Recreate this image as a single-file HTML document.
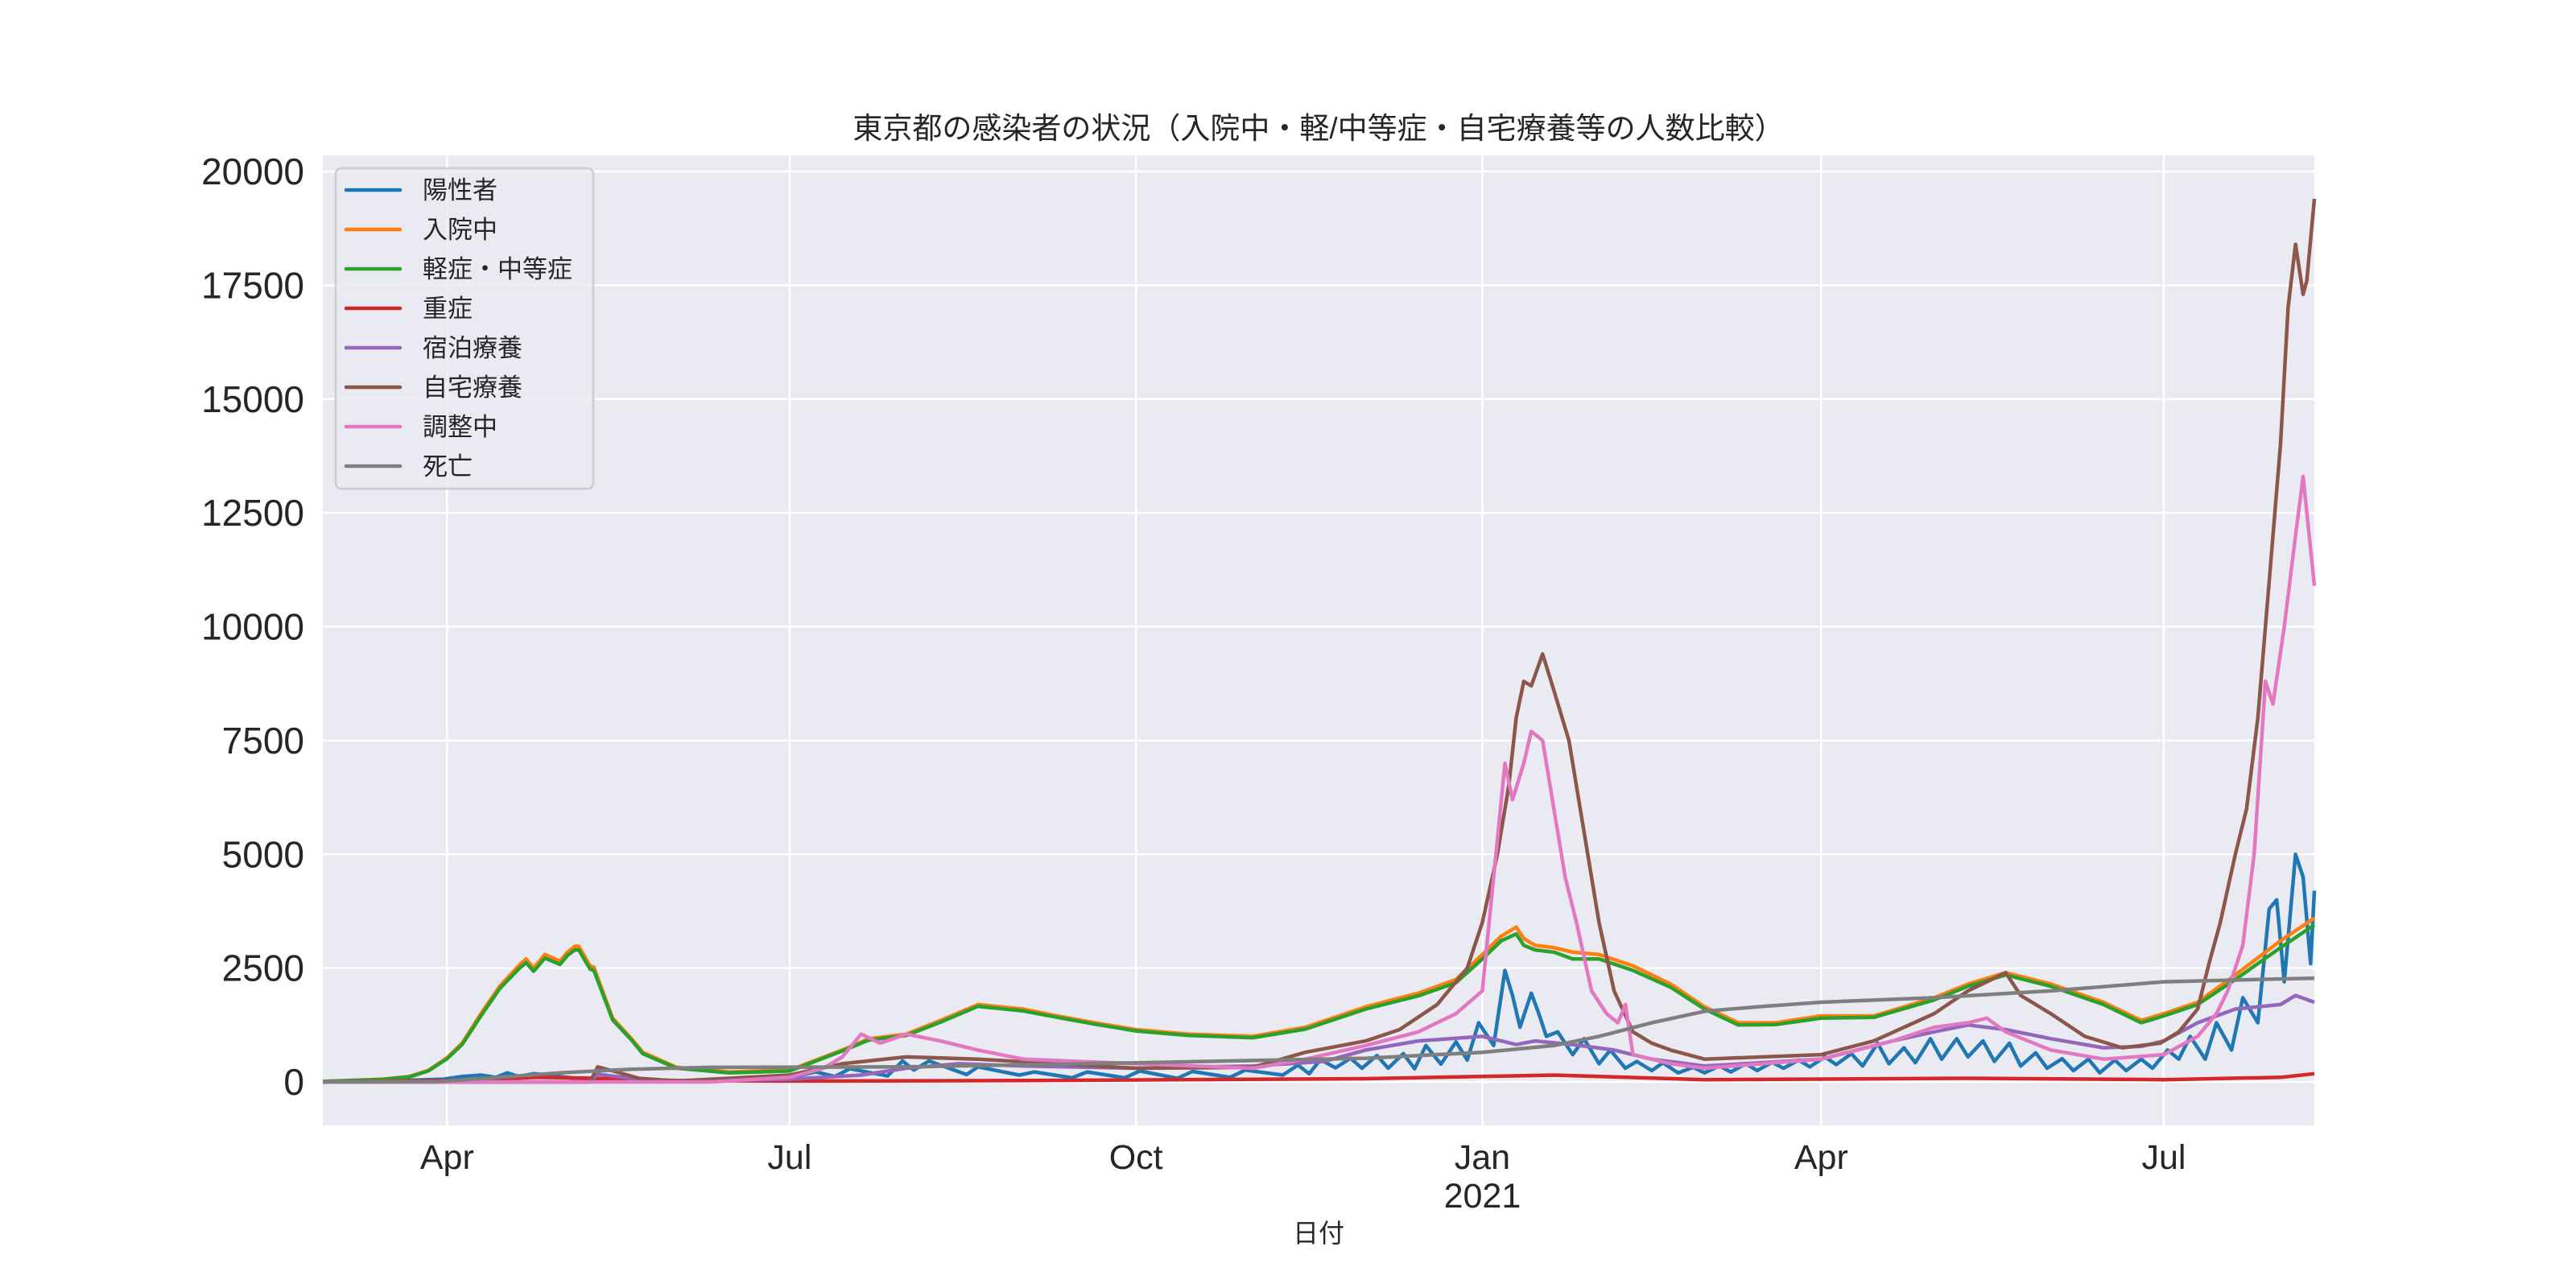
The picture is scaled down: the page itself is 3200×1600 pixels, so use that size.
<!DOCTYPE html>
<html><head><meta charset="utf-8"><style>
html,body{margin:0;padding:0;background:#fff;}
svg{display:block;}
text{font-family:"Liberation Sans","Noto Sans CJK JP",sans-serif;fill:#262626;}
</style></head><body>
<svg id="chart" width="3200" height="1600" viewBox="0 0 3200 1600" xmlns="http://www.w3.org/2000/svg">
<text x="1638" y="172" font-size="37" text-anchor="middle">東京都の感染者の状況（入院中・軽/中等症・自宅療養等の人数比較）</text>
<rect x="401" y="193" width="2474" height="1205" fill="#EAEAF2"/>
<g id="grid"></g>
<g id="series"></g>
<g id="ticks"></g>
<text x="1638" y="1543" font-size="32" text-anchor="middle">日付</text>
<g id="legend"></g>
</svg>
<script>
const yTicks=[0,2500,5000,7500,10000,12500,15000,17500,20000];
const xTickDates=["2020-04-01","2020-07-01","2020-10-01","2021-01-01","2021-04-01","2021-07-01"];
const xTickLabels=["Apr","Jul","Oct","Jan","Apr","Jul"];
const seriesNames=["陽性者","入院中","軽症・中等症","重症","宿泊療養","自宅療養","調整中","死亡"];

const blueDates=["2020-02-28","2020-03-20","2020-03-31","2020-04-05","2020-04-10","2020-04-14","2020-04-17","2020-04-20","2020-04-24","2020-05-01","2020-05-10","2020-05-20","2020-06-10","2020-07-01","2020-07-08","2020-07-13","2020-07-17","2020-07-27","2020-07-31","2020-08-03","2020-08-07","2020-08-17","2020-08-20","2020-08-31","2020-09-04","2020-09-14","2020-09-18","2020-09-28","2020-10-02","2020-10-12","2020-10-16","2020-10-26","2020-10-30","2020-11-09","2020-11-13","2020-11-16","2020-11-19","2020-11-23","2020-11-27","2020-11-30","2020-12-04","2020-12-07","2020-12-11","2020-12-14","2020-12-17","2020-12-21","2020-12-25","2020-12-28","2020-12-31","2021-01-04","2021-01-07","2021-01-09","2021-01-11","2021-01-14","2021-01-16","2021-01-18","2021-01-21","2021-01-25","2021-01-28","2021-02-01","2021-02-04","2021-02-08","2021-02-11","2021-02-15","2021-02-18","2021-02-22","2021-02-26","2021-03-01","2021-03-05","2021-03-08","2021-03-12","2021-03-15","2021-03-19","2021-03-22","2021-03-26","2021-03-29","2021-04-02","2021-04-05","2021-04-09","2021-04-12","2021-04-16","2021-04-19","2021-04-23","2021-04-26","2021-04-30","2021-05-03","2021-05-07","2021-05-10","2021-05-14","2021-05-17","2021-05-21","2021-05-24","2021-05-28","2021-05-31","2021-06-04","2021-06-07","2021-06-11","2021-06-14","2021-06-18","2021-06-21","2021-06-25","2021-06-28","2021-07-02","2021-07-05","2021-07-08","2021-07-12","2021-07-15","2021-07-19","2021-07-22","2021-07-26","2021-07-29","2021-07-31","2021-08-02","2021-08-05","2021-08-07","2021-08-09","2021-08-10"];
const blueValues=[0,30,60,120,150,100,200,120,180,120,30,10,40,100,220,120,290,130,460,260,460,160,330,150,220,90,220,90,240,80,230,100,260,150,370,180,490,310,520,300,580,300,620,290,800,390,880,480,1300,800,2450,1900,1200,1950,1500,1000,1100,600,950,400,700,300,450,250,420,200,320,200,350,220,400,250,430,300,480,330,550,380,620,350,850,400,750,420,950,500,950,550,900,450,850,350,640,300,510,250,500,200,480,250,500,300,700,500,1000,500,1300,700,1850,1300,3800,4000,2200,5000,4500,2600,4200];

const orangeDates=["2020-02-28","2020-03-15","2020-03-22","2020-03-27","2020-04-01","2020-04-05","2020-04-10","2020-04-15","2020-04-20","2020-04-22","2020-04-24","2020-04-27","2020-05-01","2020-05-03","2020-05-05","2020-05-06","2020-05-09","2020-05-10","2020-05-15","2020-05-20","2020-05-23","2020-06-01","2020-06-15","2020-07-01","2020-07-15","2020-07-22","2020-08-01","2020-08-10","2020-08-20","2020-09-01","2020-09-10","2020-09-20","2020-10-01","2020-10-15","2020-11-01","2020-11-15","2020-12-01","2020-12-15","2020-12-25","2021-01-01","2021-01-06","2021-01-10","2021-01-12","2021-01-15","2021-01-20","2021-01-25","2021-02-01","2021-02-10","2021-02-20","2021-03-01","2021-03-10","2021-03-20","2021-04-01","2021-04-15","2021-05-01","2021-05-10","2021-05-20","2021-06-01","2021-06-15","2021-06-25","2021-07-01","2021-07-10","2021-07-20","2021-08-01","2021-08-10"];
const orangeValues=[10,60,120,250,530,850,1500,2100,2550,2700,2500,2800,2650,2850,2980,2980,2550,2520,1400,950,650,320,220,260,700,950,1050,1350,1700,1600,1450,1300,1150,1050,1000,1200,1650,1950,2250,2800,3200,3400,3150,3000,2950,2850,2800,2550,2150,1650,1300,1300,1450,1450,1850,2150,2400,2150,1750,1350,1500,1750,2350,3100,3600];

const greenDates=orangeDates;
const greenValues=[10,55,110,240,510,820,1450,2050,2480,2620,2430,2720,2580,2780,2900,2900,2480,2450,1360,920,620,300,200,240,680,920,1020,1310,1660,1560,1420,1270,1120,1020,970,1160,1600,1890,2180,2700,3100,3250,3000,2900,2850,2700,2700,2450,2080,1600,1250,1260,1400,1420,1800,2100,2350,2100,1700,1300,1450,1700,2250,2950,3450];

const redDates=["2020-02-28","2020-04-01","2020-04-25","2020-05-10","2020-06-01","2020-07-01","2020-09-01","2020-12-01","2021-01-20","2021-03-01","2021-05-10","2021-07-01","2021-08-01","2021-08-10"];
const redValues=[0,30,100,80,30,20,30,70,150,50,80,50,100,180];

const purpleDates=["2020-02-28","2020-05-09","2020-05-11","2020-05-20","2020-06-01","2020-07-01","2020-07-20","2020-08-01","2020-08-15","2020-09-01","2020-10-01","2020-11-01","2020-11-20","2020-12-01","2020-12-15","2021-01-01","2021-01-10","2021-01-15","2021-01-25","2021-02-05","2021-02-15","2021-03-01","2021-04-01","2021-04-20","2021-05-01","2021-05-10","2021-05-20","2021-06-01","2021-06-15","2021-06-25","2021-07-01","2021-07-10","2021-07-20","2021-08-01","2021-08-05","2021-08-10"];
const purpleValues=[0,0,170,80,20,60,150,300,400,350,300,350,450,700,900,1000,820,900,820,700,500,350,500,900,1100,1250,1150,950,750,780,900,1300,1600,1700,1900,1750];

const brownDates=["2020-02-28","2020-05-09","2020-05-11","2020-05-16","2020-05-22","2020-06-01","2020-07-01","2020-07-15","2020-08-01","2020-08-20","2020-09-10","2020-10-01","2020-11-01","2020-11-15","2020-12-01","2020-12-10","2020-12-20","2020-12-28","2021-01-01","2021-01-05","2021-01-08","2021-01-10","2021-01-12","2021-01-14","2021-01-17","2021-01-20","2021-01-24","2021-01-27","2021-02-01","2021-02-05","2021-02-10","2021-02-15","2021-02-20","2021-03-01","2021-04-01","2021-04-15","2021-05-01","2021-05-10","2021-05-20","2021-05-24","2021-06-01","2021-06-10","2021-06-20","2021-06-30","2021-07-05","2021-07-10","2021-07-13","2021-07-16","2021-07-20","2021-07-23","2021-07-26","2021-07-29","2021-08-01","2021-08-03","2021-08-05","2021-08-07","2021-08-08","2021-08-10"];
const brownValues=[0,0,330,220,80,20,150,400,550,500,400,300,320,650,900,1150,1700,2500,3500,5000,6500,8000,8800,8700,9400,8600,7500,6000,3500,2000,1100,850,700,500,600,900,1500,2000,2400,1900,1500,1000,750,850,1100,1600,2600,3500,5000,6000,8000,11000,14000,17000,18400,17300,17600,19400];

const pinkDates=["2020-02-28","2020-06-10","2020-07-01","2020-07-10","2020-07-15","2020-07-20","2020-07-25","2020-08-01","2020-08-10","2020-08-20","2020-09-01","2020-10-01","2020-11-01","2020-11-15","2020-12-01","2020-12-15","2020-12-25","2021-01-01","2021-01-04","2021-01-07","2021-01-09","2021-01-12","2021-01-14","2021-01-17","2021-01-20","2021-01-23","2021-01-26","2021-01-30","2021-02-03","2021-02-06","2021-02-08","2021-02-10","2021-02-20","2021-03-01","2021-04-01","2021-04-20","2021-05-01","2021-05-10","2021-05-15","2021-05-20","2021-06-01","2021-06-15","2021-07-01","2021-07-10","2021-07-15","2021-07-18","2021-07-22","2021-07-25","2021-07-28","2021-07-30","2021-08-02","2021-08-05","2021-08-07","2021-08-10"];
const pinkValues=[0,0,100,300,550,1050,850,1050,900,700,500,400,300,500,800,1100,1500,2000,4500,7000,6200,7000,7700,7500,6000,4500,3500,2000,1500,1300,1700,600,400,300,500,900,1200,1300,1400,1100,700,500,600,1000,1500,2000,3000,5000,8800,8300,10000,12000,13300,10900];

const grayDates=["2020-02-28","2020-03-30","2020-04-15","2020-05-01","2020-05-20","2020-06-10","2020-08-01","2020-10-01","2020-12-01","2021-01-01","2021-01-20","2021-02-01","2021-02-15","2021-03-01","2021-03-15","2021-04-01","2021-05-01","2021-06-01","2021-07-01","2021-08-10"];
const grayValues=[0,10,100,200,280,320,330,420,520,650,800,1000,1300,1550,1650,1750,1850,2000,2200,2280];

const colors=["#1f77b4","#ff7f0e","#2ca02c","#d62728","#9467bd","#8c564b","#e377c2","#7f7f7f"];
const NS="http://www.w3.org/2000/svg";
const X0=401,X1=2875,Y0=193,Y1=1398;
const dStart=Date.UTC(2020,1,28), dEnd=Date.UTC(2021,7,10);
function dayOf(s){const p=s.split("-");return Date.UTC(+p[0],+p[1]-1,+p[2]);}
function xs(s){return X0+(dayOf(s)-dStart)/(dEnd-dStart)*(X1-X0);}
const yMin=-955,yMax=20354;
function ys(v){return Y1-(v-yMin)/(yMax-yMin)*(Y1-Y0);}
function mk(tag,attrs,parent){const e=document.createElementNS(NS,tag);for(const k in attrs)e.setAttribute(k,attrs[k]);parent.appendChild(e);return e;}

const grid=document.getElementById("grid"),ticks=document.getElementById("ticks");
yTicks.forEach(v=>{
  const l=mk("line",{x1:X0,x2:X1,y1:ys(v),y2:ys(v),stroke:"#fff","stroke-width":2.5},grid);
  
  
  const t=mk("text",{x:378,y:ys(v)+16,"font-size":46,"text-anchor":"end"},ticks);
  t.textContent=String(v);
  
  
});
xTickDates.forEach((d,i)=>{
  const x=xs(d);
  const l=mk("line",{x1:x,x2:x,y1:Y0,y2:Y1,stroke:"#fff","stroke-width":2.5},grid);
  
  
  const t=mk("text",{x:x,y:1452,"font-size":43,"text-anchor":"middle"},ticks);
  t.textContent=xTickLabels[i];
  
  
  if(d==="2021-01-01"){
    const t2=mk("text",{x:x,y:1500,"font-size":43,"text-anchor":"middle"},ticks);
    t2.textContent="2021";
    
    
  }
});

const allDates=[blueDates,orangeDates,greenDates,redDates,purpleDates,brownDates,pinkDates,grayDates];
const allValues=[blueValues,orangeValues,greenValues,redValues,purpleValues,brownValues,pinkValues,grayValues];
const sg=document.getElementById("series");
const lineKeys=["line-positive","line-hospitalized","line-mild-moderate","line-severe","line-hotel","line-home","line-adjusting","line-deaths"];
for(let i=0;i<8;i++){
  const pts=allDates[i].map((d,j)=>xs(d).toFixed(1)+","+ys(allValues[i][j]).toFixed(1)).join(" ");
  const p=mk("polyline",{points:pts,fill:"none",stroke:colors[i],"stroke-width":4.5,"stroke-linejoin":"round"},sg);
  
  
}
const lg=document.getElementById("legend");
const box=mk("rect",{x:417,y:209,width:320,height:398,rx:7,fill:"#EAEAF2","fill-opacity":0.8,stroke:"#cccccc","stroke-width":2.5},lg);


seriesNames.forEach((n,i)=>{
  const y=236+i*49;
  const l=mk("line",{x1:430,x2:497,y1:y,y2:y,stroke:colors[i],"stroke-width":4.5,"stroke-linecap":"round"},lg);
  
  
  const t=mk("text",{x:525,y:y+11,"font-size":31},lg);
  t.textContent=n;
  
  
});
</script>
</body></html>
